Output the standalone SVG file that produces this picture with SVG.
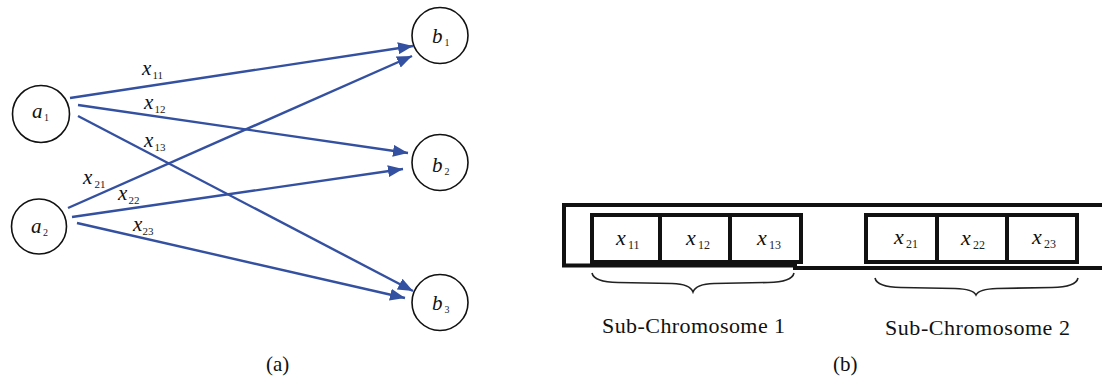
<svg xmlns="http://www.w3.org/2000/svg" width="1102" height="378" viewBox="0 0 1102 378">
<style>
  .node circle { fill: #ffffff; stroke: #111111; stroke-width: 1.6; }
  .var { font-family: "Liberation Serif", "Times New Roman", serif; font-style: italic; fill: #111111; }
  .sub { font-family: "Liberation Serif", "Times New Roman", serif; font-style: normal; fill: #222222; }
  .edge { stroke: #3450a0; stroke-width: 2.4; fill: none; marker-end: url(#arr); }
  .cap { font-family: "Liberation Serif", "Times New Roman", serif; fill: #111111; }
  .box { fill: #ffffff; stroke: #111111; stroke-width: 4; }
  .brace { fill: none; stroke: #222222; stroke-width: 1.6; }
</style>
<defs>
  <marker id="arr" markerUnits="userSpaceOnUse" markerWidth="16" markerHeight="12" refX="15" refY="6" orient="auto">
    <path d="M0,0 L15,6 L0,12 Z" fill="#3450a0"/>
  </marker>
</defs>
<rect width="1102" height="378" fill="#ffffff"/>

<!-- Panel (a) connectors -->
<g id="connectors">
  <line class="edge" x1="70" y1="98" x2="413" y2="46"/>
  <line class="edge" x1="78" y1="105" x2="408" y2="153"/>
  <line class="edge" x1="78" y1="116" x2="413" y2="291"/>
  <line class="edge" x1="68" y1="208" x2="412" y2="56"/>
  <line class="edge" x1="72" y1="217" x2="403" y2="169"/>
  <line class="edge" x1="77" y1="223" x2="405" y2="298"/>
</g>

<!-- Edge labels -->
<g id="edge-labels">
  <text class="var" x="142" y="75" font-size="21">x</text><text class="sub" x="152.5" y="79" font-size="11">11</text>
  <text class="var" x="144" y="109" font-size="21">x</text><text class="sub" x="154.5" y="113" font-size="11">12</text>
  <text class="var" x="144" y="147" font-size="21">x</text><text class="sub" x="154.5" y="151" font-size="11">13</text>
  <text class="var" x="83" y="184" font-size="21">x</text><text class="sub" x="94.5" y="188" font-size="11">21</text>
  <text class="var" x="118" y="200" font-size="21">x</text><text class="sub" x="128.5" y="204" font-size="11">22</text>
  <text class="var" x="133" y="231" font-size="21">x</text><text class="sub" x="142.5" y="235" font-size="11">23</text>
</g>

<!-- Nodes -->
<g id="a1" class="node"><circle cx="41" cy="114" r="28.5"/><text class="var" x="32" y="118" font-size="21">a</text><text class="sub" x="44" y="121" font-size="10">1</text></g>
<g id="a2" class="node"><circle cx="39" cy="226.5" r="27.5"/><text class="var" x="31" y="233" font-size="21">a</text><text class="sub" x="43" y="236" font-size="10">2</text></g>
<g id="b1" class="node"><circle cx="440" cy="35.5" r="28"/><text class="var" x="432" y="43" font-size="21">b</text><text class="sub" x="444.5" y="46" font-size="10">1</text></g>
<g id="b2" class="node"><circle cx="440" cy="162.5" r="28"/><text class="var" x="432" y="172" font-size="21">b</text><text class="sub" x="444.5" y="175" font-size="10">2</text></g>
<g id="b3" class="node"><circle cx="440" cy="302.5" r="28"/><text class="var" x="432" y="310" font-size="21">b</text><text class="sub" x="444.5" y="313" font-size="10">3</text></g>

<text class="cap" x="266" y="371" font-size="21">(a)</text>

<!-- Panel (b) -->
<g id="chromosome">
  <path d="M1102,205 H564 V265.5 H795 V268 H1102" fill="none" stroke="#111111" stroke-width="4"/>
</g>
<g id="sub-chromosome-1">
  <rect class="box" x="592" y="215" width="209" height="47"/>
  <line x1="660" y1="215" x2="660" y2="262" stroke="#111111" stroke-width="4"/>
  <line x1="730" y1="215" x2="730" y2="262" stroke="#111111" stroke-width="4"/>
  <text class="var" x="616" y="245" font-size="22">x</text><text class="sub" x="628" y="249" font-size="12">11</text>
  <text class="var" x="686" y="245" font-size="22">x</text><text class="sub" x="698" y="249" font-size="12">12</text>
  <text class="var" x="757" y="245" font-size="22">x</text><text class="sub" x="769" y="249" font-size="12">13</text>
  <path class="brace" d="M592,273 Q594,282 618,282.5 L672,283.5 Q690,284 693,292 Q696,284 714,283.5 L768,282.5 Q792,282 794,273"/>
  <text class="cap" x="602" y="333" font-size="22" textLength="183" lengthAdjust="spacing">Sub-Chromosome 1</text>
</g>
<g id="sub-chromosome-2">
  <rect class="box" x="866" y="215" width="211" height="47"/>
  <line x1="937" y1="215" x2="937" y2="262" stroke="#111111" stroke-width="4"/>
  <line x1="1007" y1="215" x2="1007" y2="262" stroke="#111111" stroke-width="4"/>
  <text class="var" x="894" y="244" font-size="22">x</text><text class="sub" x="906" y="248" font-size="12">21</text>
  <text class="var" x="961" y="245" font-size="22">x</text><text class="sub" x="973" y="249" font-size="12">22</text>
  <text class="var" x="1032" y="244" font-size="22">x</text><text class="sub" x="1044" y="248" font-size="12">23</text>
  <path class="brace" d="M875,278 Q877,287 901,287.5 L955,288.5 Q973,289 976,295 Q979,289 997,288.5 L1052,287.5 Q1076,287 1078,278"/>
  <text class="cap" x="885" y="335" font-size="22" textLength="185" lengthAdjust="spacing">Sub-Chromosome 2</text>
</g>

<text class="cap" x="833" y="371" font-size="21">(b)</text>
</svg>
